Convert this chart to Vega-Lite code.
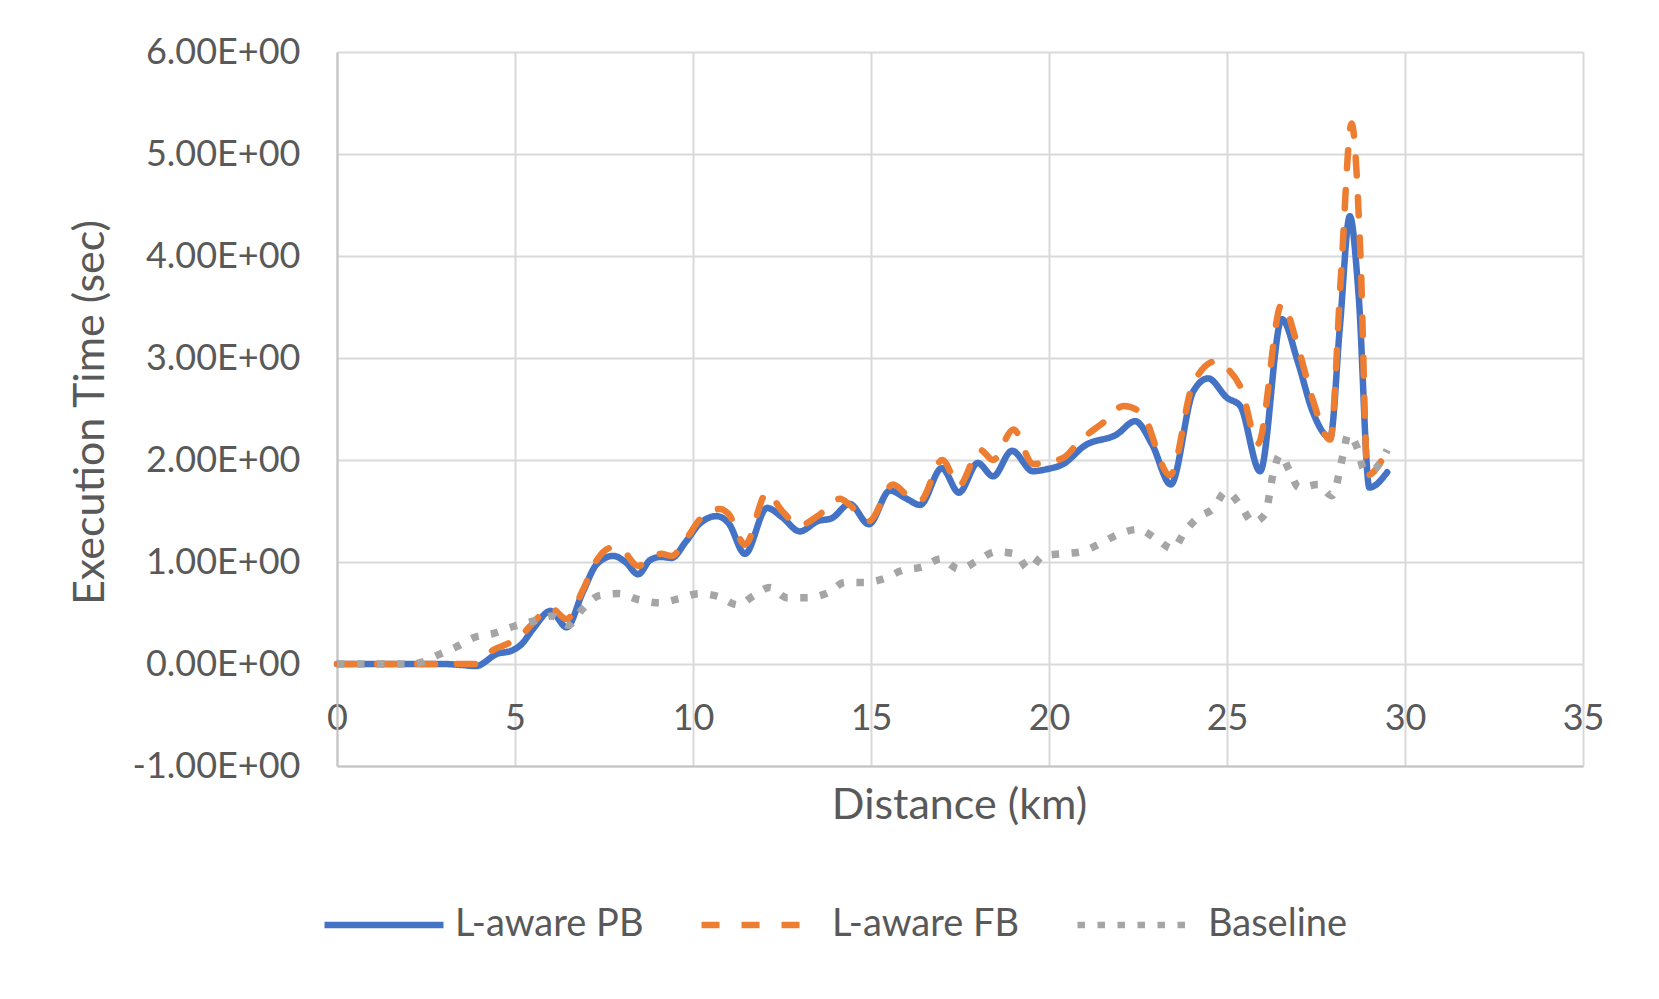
{
  "$schema": "https://vega.github.io/schema/vega-lite/v6.json",
  "width": 1246,
  "height": 714,
  "autosize": {"type": "none"},
  "padding": {"left": 337, "top": 52, "right": 76, "bottom": 233},
  "background": "white",
  "config": {
    "view": {"stroke": null},
    "font": "Lato",
    "axis": {
      "grid": true,
      "gridColor": "#D9D9D9",
      "gridWidth": 2,
      "domain": true,
      "domainColor": "#C4C4C4",
      "domainWidth": 2,
      "ticks": false,
      "tickSize": 0,
      "labelFont": "Lato",
      "labelFontSize": 36,
      "labelColor": "#595959",
      "labelFlush": false,
      "labelOverlap": false,
      "titleFont": "Lato",
      "titleFontSize": 43,
      "titleFontWeight": "normal",
      "titleColor": "#595959"
    }
  },
  "data": {
    "values": [
      {"series": "L-aware PB", "km": 0, "t": 0},
      {"series": "L-aware PB", "km": 0.5, "t": 0},
      {"series": "L-aware PB", "km": 1, "t": 0},
      {"series": "L-aware PB", "km": 1.5, "t": 0},
      {"series": "L-aware PB", "km": 2, "t": 0},
      {"series": "L-aware PB", "km": 2.5, "t": 0},
      {"series": "L-aware PB", "km": 3, "t": 0},
      {"series": "L-aware PB", "km": 3.5, "t": -0.01},
      {"series": "L-aware PB", "km": 3.9, "t": -0.02},
      {"series": "L-aware PB", "km": 4.5, "t": 0.1},
      {"series": "L-aware PB", "km": 4.9, "t": 0.13},
      {"series": "L-aware PB", "km": 5.2, "t": 0.2},
      {"series": "L-aware PB", "km": 5.5, "t": 0.34},
      {"series": "L-aware PB", "km": 6.0, "t": 0.52},
      {"series": "L-aware PB", "km": 6.45, "t": 0.36},
      {"series": "L-aware PB", "km": 6.9, "t": 0.7},
      {"series": "L-aware PB", "km": 7.3, "t": 0.98},
      {"series": "L-aware PB", "km": 7.76, "t": 1.06},
      {"series": "L-aware PB", "km": 8.1, "t": 1.0},
      {"series": "L-aware PB", "km": 8.46, "t": 0.88},
      {"series": "L-aware PB", "km": 8.8, "t": 1.02},
      {"series": "L-aware PB", "km": 9.1, "t": 1.05},
      {"series": "L-aware PB", "km": 9.4, "t": 1.04},
      {"series": "L-aware PB", "km": 9.8, "t": 1.2},
      {"series": "L-aware PB", "km": 10.2, "t": 1.38},
      {"series": "L-aware PB", "km": 10.67, "t": 1.45},
      {"series": "L-aware PB", "km": 11.0, "t": 1.38},
      {"series": "L-aware PB", "km": 11.46, "t": 1.08},
      {"series": "L-aware PB", "km": 12.08, "t": 1.53},
      {"series": "L-aware PB", "km": 12.5, "t": 1.44},
      {"series": "L-aware PB", "km": 13.0, "t": 1.3},
      {"series": "L-aware PB", "km": 13.5, "t": 1.4},
      {"series": "L-aware PB", "km": 13.9, "t": 1.43},
      {"series": "L-aware PB", "km": 14.4, "t": 1.57},
      {"series": "L-aware PB", "km": 14.94, "t": 1.37},
      {"series": "L-aware PB", "km": 15.53, "t": 1.7},
      {"series": "L-aware PB", "km": 16.0, "t": 1.62},
      {"series": "L-aware PB", "km": 16.38, "t": 1.56},
      {"series": "L-aware PB", "km": 16.99, "t": 1.92},
      {"series": "L-aware PB", "km": 17.47, "t": 1.68},
      {"series": "L-aware PB", "km": 18.0, "t": 1.97},
      {"series": "L-aware PB", "km": 18.43, "t": 1.84},
      {"series": "L-aware PB", "km": 18.96, "t": 2.09},
      {"series": "L-aware PB", "km": 19.55, "t": 1.89},
      {"series": "L-aware PB", "km": 19.94, "t": 1.91},
      {"series": "L-aware PB", "km": 20.4, "t": 1.96},
      {"series": "L-aware PB", "km": 21.0, "t": 2.14},
      {"series": "L-aware PB", "km": 21.9, "t": 2.25},
      {"series": "L-aware PB", "km": 22.42, "t": 2.38},
      {"series": "L-aware PB", "km": 22.9, "t": 2.15},
      {"series": "L-aware PB", "km": 23.42, "t": 1.76},
      {"series": "L-aware PB", "km": 24.05, "t": 2.67},
      {"series": "L-aware PB", "km": 24.47, "t": 2.8},
      {"series": "L-aware PB", "km": 25.0, "t": 2.61},
      {"series": "L-aware PB", "km": 25.37, "t": 2.53},
      {"series": "L-aware PB", "km": 25.93, "t": 1.89},
      {"series": "L-aware PB", "km": 26.54, "t": 3.38},
      {"series": "L-aware PB", "km": 27.0, "t": 2.95},
      {"series": "L-aware PB", "km": 27.4, "t": 2.48},
      {"series": "L-aware PB", "km": 27.9, "t": 2.22},
      {"series": "L-aware PB", "km": 28.17, "t": 3.3},
      {"series": "L-aware PB", "km": 28.45, "t": 4.39},
      {"series": "L-aware PB", "km": 28.7, "t": 3.6},
      {"series": "L-aware PB", "km": 29.0, "t": 1.73},
      {"series": "L-aware PB", "km": 29.5, "t": 1.88},

      {"series": "L-aware FB", "km": 0, "t": 0},
      {"series": "L-aware FB", "km": 0.5, "t": 0},
      {"series": "L-aware FB", "km": 1, "t": 0},
      {"series": "L-aware FB", "km": 1.5, "t": 0},
      {"series": "L-aware FB", "km": 2, "t": 0},
      {"series": "L-aware FB", "km": 2.5, "t": 0},
      {"series": "L-aware FB", "km": 3, "t": 0},
      {"series": "L-aware FB", "km": 3.5, "t": 0},
      {"series": "L-aware FB", "km": 3.9, "t": 0},
      {"series": "L-aware FB", "km": 4.4, "t": 0.14},
      {"series": "L-aware FB", "km": 4.8, "t": 0.2},
      {"series": "L-aware FB", "km": 5.15, "t": 0.27},
      {"series": "L-aware FB", "km": 5.5, "t": 0.4},
      {"series": "L-aware FB", "km": 6.0, "t": 0.55},
      {"series": "L-aware FB", "km": 6.45, "t": 0.44},
      {"series": "L-aware FB", "km": 6.9, "t": 0.72},
      {"series": "L-aware FB", "km": 7.3, "t": 1.02},
      {"series": "L-aware FB", "km": 7.72, "t": 1.14},
      {"series": "L-aware FB", "km": 8.0, "t": 1.12},
      {"series": "L-aware FB", "km": 8.46, "t": 0.96},
      {"series": "L-aware FB", "km": 8.8, "t": 1.04},
      {"series": "L-aware FB", "km": 9.1, "t": 1.08},
      {"series": "L-aware FB", "km": 9.4, "t": 1.06},
      {"series": "L-aware FB", "km": 9.8, "t": 1.22},
      {"series": "L-aware FB", "km": 10.2, "t": 1.42},
      {"series": "L-aware FB", "km": 10.76, "t": 1.52},
      {"series": "L-aware FB", "km": 11.0, "t": 1.47},
      {"series": "L-aware FB", "km": 11.46, "t": 1.17},
      {"series": "L-aware FB", "km": 12.08, "t": 1.68},
      {"series": "L-aware FB", "km": 12.5, "t": 1.5},
      {"series": "L-aware FB", "km": 13.0, "t": 1.36},
      {"series": "L-aware FB", "km": 13.5, "t": 1.45},
      {"series": "L-aware FB", "km": 14.13, "t": 1.62},
      {"series": "L-aware FB", "km": 14.4, "t": 1.56},
      {"series": "L-aware FB", "km": 14.94, "t": 1.4},
      {"series": "L-aware FB", "km": 15.62, "t": 1.76},
      {"series": "L-aware FB", "km": 16.0, "t": 1.66},
      {"series": "L-aware FB", "km": 16.38, "t": 1.6},
      {"series": "L-aware FB", "km": 17.0, "t": 2.0},
      {"series": "L-aware FB", "km": 17.47, "t": 1.75},
      {"series": "L-aware FB", "km": 18.06, "t": 2.1},
      {"series": "L-aware FB", "km": 18.43, "t": 2.0},
      {"series": "L-aware FB", "km": 19.0, "t": 2.3},
      {"series": "L-aware FB", "km": 19.55, "t": 1.96},
      {"series": "L-aware FB", "km": 19.94, "t": 1.98},
      {"series": "L-aware FB", "km": 20.4, "t": 2.02},
      {"series": "L-aware FB", "km": 20.87, "t": 2.19},
      {"series": "L-aware FB", "km": 21.5, "t": 2.36},
      {"series": "L-aware FB", "km": 22.1, "t": 2.53},
      {"series": "L-aware FB", "km": 22.6, "t": 2.46},
      {"series": "L-aware FB", "km": 23.4, "t": 1.85},
      {"series": "L-aware FB", "km": 24.05, "t": 2.75},
      {"series": "L-aware FB", "km": 24.7, "t": 2.97},
      {"series": "L-aware FB", "km": 25.03, "t": 2.89},
      {"series": "L-aware FB", "km": 25.4, "t": 2.7},
      {"series": "L-aware FB", "km": 25.87, "t": 2.16},
      {"series": "L-aware FB", "km": 26.54, "t": 3.53},
      {"series": "L-aware FB", "km": 27.0, "t": 3.1},
      {"series": "L-aware FB", "km": 27.4, "t": 2.6},
      {"series": "L-aware FB", "km": 27.9, "t": 2.2},
      {"series": "L-aware FB", "km": 28.2, "t": 3.8},
      {"series": "L-aware FB", "km": 28.5, "t": 5.3},
      {"series": "L-aware FB", "km": 28.75, "t": 4.0},
      {"series": "L-aware FB", "km": 28.95, "t": 1.85},
      {"series": "L-aware FB", "km": 29.5, "t": 2.1},

      {"series": "Baseline", "km": 0, "t": 0},
      {"series": "Baseline", "km": 0.5, "t": 0},
      {"series": "Baseline", "km": 1, "t": 0},
      {"series": "Baseline", "km": 1.5, "t": 0},
      {"series": "Baseline", "km": 2, "t": 0},
      {"series": "Baseline", "km": 2.3, "t": 0.01},
      {"series": "Baseline", "km": 2.84, "t": 0.09},
      {"series": "Baseline", "km": 3.36, "t": 0.17},
      {"series": "Baseline", "km": 3.85, "t": 0.26},
      {"series": "Baseline", "km": 4.4, "t": 0.3},
      {"series": "Baseline", "km": 4.97, "t": 0.37},
      {"series": "Baseline", "km": 5.5, "t": 0.42},
      {"series": "Baseline", "km": 6.04, "t": 0.47},
      {"series": "Baseline", "km": 6.5, "t": 0.38},
      {"series": "Baseline", "km": 6.9, "t": 0.54},
      {"series": "Baseline", "km": 7.36, "t": 0.67},
      {"series": "Baseline", "km": 7.92, "t": 0.69},
      {"series": "Baseline", "km": 8.48, "t": 0.63},
      {"series": "Baseline", "km": 9.05, "t": 0.6},
      {"series": "Baseline", "km": 9.6, "t": 0.64},
      {"series": "Baseline", "km": 10.17, "t": 0.69},
      {"series": "Baseline", "km": 10.73, "t": 0.66},
      {"series": "Baseline", "km": 11.26, "t": 0.58},
      {"series": "Baseline", "km": 11.71, "t": 0.67},
      {"series": "Baseline", "km": 12.16, "t": 0.75},
      {"series": "Baseline", "km": 12.64, "t": 0.65},
      {"series": "Baseline", "km": 13.2, "t": 0.65},
      {"series": "Baseline", "km": 13.8, "t": 0.7},
      {"series": "Baseline", "km": 14.27, "t": 0.8},
      {"series": "Baseline", "km": 14.8, "t": 0.8},
      {"series": "Baseline", "km": 15.3, "t": 0.83},
      {"series": "Baseline", "km": 15.9, "t": 0.92},
      {"series": "Baseline", "km": 16.43, "t": 0.95},
      {"series": "Baseline", "km": 16.97, "t": 1.03},
      {"series": "Baseline", "km": 17.47, "t": 0.93},
      {"series": "Baseline", "km": 17.98, "t": 1.01},
      {"series": "Baseline", "km": 18.5, "t": 1.1},
      {"series": "Baseline", "km": 19.05, "t": 1.08},
      {"series": "Baseline", "km": 19.44, "t": 0.93},
      {"series": "Baseline", "km": 19.83, "t": 1.06},
      {"series": "Baseline", "km": 20.36, "t": 1.08},
      {"series": "Baseline", "km": 20.9, "t": 1.1},
      {"series": "Baseline", "km": 21.43, "t": 1.18},
      {"series": "Baseline", "km": 21.94, "t": 1.27},
      {"series": "Baseline", "km": 22.5, "t": 1.32},
      {"series": "Baseline", "km": 23.0, "t": 1.23},
      {"series": "Baseline", "km": 23.48, "t": 1.13},
      {"series": "Baseline", "km": 23.8, "t": 1.29},
      {"series": "Baseline", "km": 24.16, "t": 1.43},
      {"series": "Baseline", "km": 24.63, "t": 1.53},
      {"series": "Baseline", "km": 24.97, "t": 1.69},
      {"series": "Baseline", "km": 25.39, "t": 1.55},
      {"series": "Baseline", "km": 25.73, "t": 1.39},
      {"series": "Baseline", "km": 26.07, "t": 1.47},
      {"series": "Baseline", "km": 26.3, "t": 1.87},
      {"series": "Baseline", "km": 26.49, "t": 2.05},
      {"series": "Baseline", "km": 26.75, "t": 1.9},
      {"series": "Baseline", "km": 27.02, "t": 1.73},
      {"series": "Baseline", "km": 27.56, "t": 1.76},
      {"series": "Baseline", "km": 27.95, "t": 1.65},
      {"series": "Baseline", "km": 28.26, "t": 2.05},
      {"series": "Baseline", "km": 28.4, "t": 2.25},
      {"series": "Baseline", "km": 28.67, "t": 2.11},
      {"series": "Baseline", "km": 28.85, "t": 1.91},
      {"series": "Baseline", "km": 29.1, "t": 1.91},
      {"series": "Baseline", "km": 29.5, "t": 2.1}
    ]
  },
  "encoding": {
    "x": {
      "field": "km",
      "type": "quantitative",
      "scale": {"domain": [0, 35], "nice": false, "zero": false},
      "axis": {
        "values": [0, 5, 10, 15, 20, 25, 30, 35],
        "labelPadding": -65,
        "labelBaseline": "top",
        "title": "Distance (km)",
        "titleX": 622,
        "titleY": 39,
        "titleAlign": "center",
        "titleBaseline": "middle"
      }
    },
    "y": {
      "field": "t",
      "type": "quantitative",
      "scale": {"domain": [-1, 6], "nice": false, "zero": false},
      "axis": {
        "values": [-1, 0, 1, 2, 3, 4, 5, 6],
        "labelPadding": 37,
        "labelExpr": "(datum.value < 0 ? '-' : '') + format(abs(datum.value), '.2f') + 'E+00'",
        "title": "Execution Time (sec)",
        "titleX": -247,
        "titleY": 360,
        "titleAngle": -90,
        "titleAlign": "center",
        "titleBaseline": "middle"
      }
    },
    "color": {
      "field": "series",
      "type": "nominal",
      "scale": {
        "domain": ["L-aware PB", "L-aware FB", "Baseline"],
        "range": ["#4472C4", "#ED7D31", "#A5A5A5"]
      },
      "legend": {
        "title": null,
        "orient": "none",
        "legendX": -16,
        "legendY": 810,
        "direction": "horizontal",
        "symbolType": "stroke",
        "symbolSize": 14161,
        "symbolStrokeWidth": 6.5,
        "labelFont": "Lato",
        "labelFontSize": 38,
        "labelColor": "#595959",
        "labelOffset": 8,
        "labelLimit": 400,
        "columnPadding": 44
      }
    },
    "strokeDash": {
      "field": "series",
      "type": "nominal",
      "scale": {
        "domain": ["L-aware PB", "L-aware FB", "Baseline"],
        "range": [[1, 0], [18, 22], [7.5, 12.5]]
      },
      "legend": {
        "title": null,
        "orient": "none",
        "legendX": -16,
        "legendY": 810,
        "direction": "horizontal",
        "symbolType": "stroke",
        "symbolSize": 14161,
        "symbolStrokeWidth": 6.5,
        "labelFont": "Lato",
        "labelFontSize": 38,
        "labelColor": "#595959",
        "labelOffset": 8,
        "labelLimit": 400,
        "columnPadding": 44
      }
    }
  },
  "layer": [
    {
      "transform": [{"filter": "datum.series === 'L-aware PB'"}],
      "mark": {"type": "line", "interpolate": "monotone", "strokeWidth": 6.5, "strokeCap": "round", "strokeJoin": "round"}
    },
    {
      "transform": [{"filter": "datum.series === 'L-aware FB'"}],
      "mark": {"type": "line", "interpolate": "monotone", "strokeWidth": 6.5, "strokeCap": "round", "strokeJoin": "round"}
    },
    {
      "transform": [{"filter": "datum.series === 'Baseline'"}],
      "mark": {"type": "line", "interpolate": "monotone", "strokeWidth": 7.5, "strokeCap": "butt", "strokeJoin": "round"}
    }
  ]
}
